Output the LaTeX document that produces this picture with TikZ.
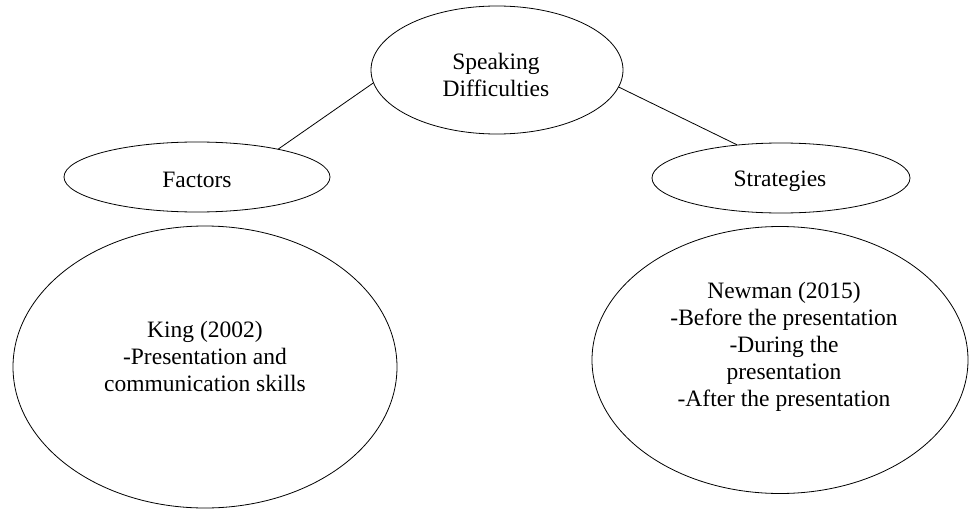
\documentclass[tikz,border=0pt]{standalone}
\usepackage{fontspec}
\setmainfont{Liberation Serif}
\usetikzlibrary{shapes.geometric}
\begin{document}
\begin{tikzpicture}[x=1pt,y=-1pt,
  oval/.style={draw=black,line width=0.8pt,ellipse,inner sep=0pt},
  lbl/.style={align=center,font=\fontsize{23.5}{27}\selectfont,inner sep=0pt},
  link/.style={draw=black,line width=0.8pt}]
\useasboundingbox (0,0) rectangle (969,511);
\node[oval,minimum width=252pt,minimum height=128pt] (top) at (497,70) {};
\node[lbl] (toptext) at (496,75) {Speaking\\Difficulties};
\node[oval,minimum width=266pt,minimum height=70pt] (fac) at (197,177) {};
\node[lbl] (factext) at (197,180) {Factors};
\node[oval,minimum width=258pt,minimum height=70pt] (str) at (781,178) {};
\node[lbl] (strtext) at (780,181) {Strategies};
\node[oval,minimum width=384pt,minimum height=282pt] (king) at (205,367) {};
\node[lbl] (kingtext) at (205,356) {King (2002)\\-Presentation and\\communication skills};
\node[oval,minimum width=376pt,minimum height=267pt] (new) at (780,360) {};
\node[lbl] (newtext) at (784,347) {Newman (2015)\\-Before the presentation\\-During the\\presentation\\-After the presentation};
\draw[link] (top.186) -- (fac.19.5);
\draw[link] (top.352.6) -- (str.143.9);
\end{tikzpicture}
\end{document}
